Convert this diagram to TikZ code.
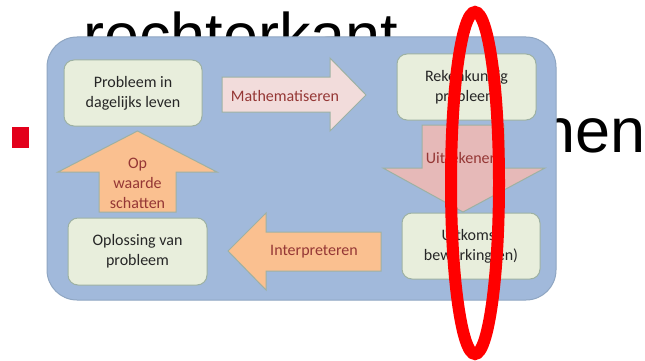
\documentclass[tikz,border=0pt]{standalone}
\usepackage{fontspec}
\setmainfont{Carlito}
\newfontfamily\arialf{Liberation Sans}
\definecolor{bluefill}{HTML}{A1B9DB}
\definecolor{blueedge}{HTML}{8FA6C2}
\definecolor{boxfill}{HTML}{E8EEDC}
\definecolor{boxedge}{HTML}{9DB1A3}
\definecolor{pinklight}{HTML}{F2DCDB}
\definecolor{pinkdark}{HTML}{E6B9B8}
\definecolor{orangefill}{HTML}{FAC090}
\definecolor{arrowtext}{HTML}{953735}
\definecolor{boxtext}{HTML}{262626}
\definecolor{bulletred}{HTML}{E3001B}
\definecolor{ellred}{HTML}{FF0000}
\tikzset{
  stepbox/.style={draw=boxedge, line width=1pt, fill=boxfill, rounded corners=10pt,
    inner sep=0pt, align=center, text=boxtext,
    font=\fontsize{16}{20}\selectfont},
  arrowshape/.style={draw=boxedge, line width=1pt},
  arrowlabel/.style={inner sep=0pt, align=center, text=arrowtext,
    font=\fontsize{16}{20}\selectfont},
  bigtext/.style={inner sep=0pt, text=black, font=\arialf\fontsize{63}{70}\selectfont}
}
\begin{document}
\begin{tikzpicture}[x=1pt,y=-1pt]
\useasboundingbox (0,0) rectangle (645,361);
\fill[white] (0,0) rectangle (645,361);
% slide text behind the diagram
\node[bigtext, anchor=base west] (title) at (83,58) {rechterkant};
\node[bigtext, anchor=base west] (tail) at (540,152) {nen};
% background panel
\draw[draw=blueedge, line width=1pt, fill=bluefill, rounded corners=30pt] (47,37) rectangle (556,300);
% boxes
\node[stepbox, minimum width=138pt, minimum height=66pt] (dagelijks) at (133,93) {Probleem in\\dagelijks leven};
\node[stepbox, minimum width=139pt, minimum height=66pt] (rekenkundig) at (466.5,87) {Rekenkundig\\probleem};
\node[stepbox, minimum width=139pt, minimum height=67pt] (oplossing) at (137.5,251.5) {Oplossing van\\probleem};
\node[stepbox, minimum width=138pt, minimum height=66pt] (uitkomst) at (471,246) {Uitkomst\\bewerking(en)};
% block arrows
\draw[arrowshape, fill=pinklight] (222,77) -- (330,77) -- (330,58) -- (366,95) -- (330,131) -- (330,112) -- (222,112) -- cycle;
\node[arrowlabel] (math) at (285,96) {Mathematiseren};
\draw[arrowshape, fill=pinkdark] (422,125) -- (504,125) -- (504,168) -- (545,168) -- (463,212) -- (383,168) -- (422,168) -- cycle;
\node[arrowlabel] (reken) at (462,158) {Uitrekenen};
\draw[arrowshape, fill=orangefill] (381,232) -- (266,232) -- (266,213) -- (228,251) -- (266,290) -- (266,271) -- (381,271) -- cycle;
\node[arrowlabel] (interp) at (314,252) {Interpreteren};
\draw[arrowshape, fill=orangefill] (99,212) -- (99,172) -- (58,172) -- (137.5,131) -- (217,172) -- (176,172) -- (176,212) -- cycle;
\node[arrowlabel] (waarde) at (137.5,183) {Op\\waarde\\schatten};
% bullet
\fill[bulletred] (12,127) rectangle (29,148);
% red ellipse
\draw[ellred, line width=12pt] (475,183) ellipse [x radius=24pt, y radius=171pt];
\end{tikzpicture}
\end{document}
